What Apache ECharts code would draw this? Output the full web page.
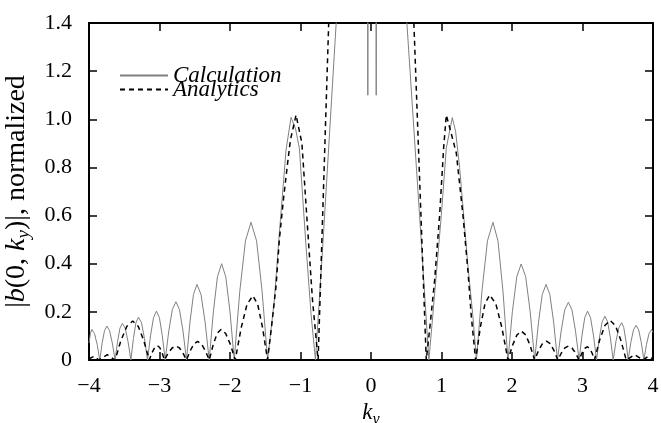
<!DOCTYPE html>
<html>
<head>
<meta charset="utf-8">
<script src="https://cdn.jsdelivr.net/npm/echarts@6/dist/echarts.min.js"></script>
<style>html,body{margin:0;padding:0;background:#fff}#c{width:661px;height:423px}</style>
</head>
<body>
<div id="c"></div>
<script>
const xTicks = [-4, -3, -2, -1, 0, 1, 2, 3, 4];
const yTicks = [0, 0.2, 0.4, 0.6, 0.8, 1.0, 1.2, 1.4];
const seriesNames = ['Calculation', 'Analytics'];

const calcK = [-4,-3.98,-3.96,-3.922,-3.884,-3.847,-3.814,-3.78,-3.747,-3.708,-3.669,-3.63,-3.595,-3.561,-3.526,-3.486,-3.446,-3.406,-3.37,-3.334,-3.298,-3.255,-3.213,-3.17,-3.128,-3.085,-3.043,-3.001,-2.96,-2.919,-2.868,-2.818,-2.767,-2.717,-2.667,-2.617,-2.568,-2.518,-2.469,-2.411,-2.353,-2.295,-2.236,-2.178,-2.119,-2.06,-2.0,-1.94,-1.861,-1.781,-1.702,-1.623,-1.545,-1.466,-1.371,-1.30,-1.205,-1.134,-1.07,-1.016,-0.92,-0.85,-0.788,-0.685,-0.494,-0.3,-0.05,-0.045,-0.04,0.07,0.074,0.078,0.3,0.509,0.689,0.821,0.878,0.997,1.068,1.153,1.2,1.257,1.375,1.446,1.496,1.574,1.652,1.73,1.801,1.872,1.943,2.005,2.068,2.13,2.194,2.258,2.322,2.376,2.429,2.483,2.537,2.591,2.645,2.697,2.748,2.8,2.851,2.901,2.952,2.992,3.032,3.072,3.114,3.157,3.199,3.239,3.278,3.318,3.357,3.396,3.435,3.475,3.515,3.555,3.586,3.617,3.648,3.685,3.723,3.76,3.797,3.834,3.871,3.907,3.944,3.98,4.0];
const calcB = [0.07,0.11,0.127,0.11,0.064,0,0.07,0.122,0.141,0.122,0.07,0,0.076,0.132,0.152,0.132,0.076,0,0.089,0.155,0.178,0.155,0.089,0,0.10,0.176,0.203,0.176,0.10,0,0.121,0.21,0.242,0.21,0.121,0,0.157,0.272,0.314,0.272,0.157,0,0.20,0.346,0.40,0.346,0.20,0,0.286,0.495,0.572,0.495,0.286,0,0.25,0.527,0.873,1.008,0.96,0.88,0.466,0.19,0,0.47,1.4,1.75,1.9,1.1,1.9,1.9,1.1,1.9,1.75,1.4,0.6,0,0.19,0.6,0.88,1.007,0.95,0.80,0.39,0.18,0,0.286,0.495,0.572,0.495,0.286,0,0.20,0.346,0.399,0.346,0.20,0,0.157,0.272,0.314,0.272,0.157,0,0.12,0.208,0.24,0.208,0.12,0,0.10,0.176,0.203,0.176,0.10,0,0.091,0.158,0.182,0.158,0.091,0,0.078,0.134,0.155,0.134,0.078,0,0.072,0.125,0.144,0.125,0.072,0,0.064,0.11,0.127,0.115];

const anaK = [-4,-3.93,-3.86,-3.74,-3.63,-3.547,-3.463,-3.38,-3.302,-3.223,-3.145,-3.107,-3.068,-3.03,-2.997,-2.963,-2.93,-2.876,-2.821,-2.767,-2.717,-2.667,-2.617,-2.565,-2.512,-2.46,-2.405,-2.349,-2.294,-2.239,-2.183,-2.128,-2.061,-1.992,-1.925,-1.842,-1.759,-1.676,-1.607,-1.537,-1.468,-1.41,-1.347,-1.30,-1.243,-1.19,-1.143,-1.063,-0.98,-0.9,-0.83,-0.75,-0.6,-0.4,0,0.4,0.608,0.784,0.84,0.902,0.973,1.03,1.068,1.13,1.21,1.305,1.375,1.423,1.484,1.55,1.617,1.683,1.77,1.856,1.943,2.006,2.07,2.133,2.195,2.258,2.32,2.376,2.432,2.488,2.542,2.596,2.65,2.7,2.75,2.8,2.851,2.901,2.952,2.991,3.031,3.07,3.103,3.137,3.17,3.243,3.317,3.39,3.467,3.543,3.62,3.74,3.86,3.93,4.0];
const anaB = [0.005,0.015,0,0.022,0,0.081,0.14,0.162,0.14,0.081,0,0.03,0.052,0.06,0.052,0.03,0,0.029,0.05,0.058,0.05,0.029,0,0.038,0.067,0.077,0.067,0.038,0,0.063,0.11,0.127,0.11,0.063,0,0.133,0.231,0.267,0.231,0.133,0,0.14,0.307,0.5,0.665,0.80,0.914,1.018,0.9,0.55,0.25,0,1.4,2.0,2.4,2.0,1.4,0,0.15,0.33,0.6,0.88,1.018,0.95,0.86,0.6,0.37,0.18,0,0.135,0.234,0.27,0.234,0.135,0,0.06,0.104,0.12,0.104,0.06,0,0.039,0.068,0.078,0.068,0.039,0,0.029,0.05,0.058,0.05,0.029,0,0.028,0.048,0.055,0.048,0.028,0,0.083,0.143,0.165,0.143,0.083,0,0.022,0,0.015,0.005];

const FONT = 'Liberation Serif';
const pairs = (xs, ys) => xs.map((x, i) => [x, ys[i]]);
const fmtX = v => (v < 0 ? '\u2212' + Math.abs(v) : String(v));
const fmtY = v => (v === 0 ? '0' : v.toFixed(1));

const chart = echarts.init(document.getElementById('c'), null, {renderer: 'canvas'});
const axisLine = {show: true, onZero: false, lineStyle: {color: '#000', width: 2}};
const tick = {show: true, inside: true, length: 8, lineStyle: {color: '#000', width: 1.5}};
const xBase = {type: 'value', min: xTicks[0], max: xTicks[xTicks.length - 1], interval: 1, splitLine: {show: false}, axisLine, axisTick: tick};
const yBase = {type: 'value', min: yTicks[0], max: yTicks[yTicks.length - 1], interval: 0.2, splitLine: {show: false}, axisLine, axisTick: tick};

chart.setOption({
  animation: false,
  backgroundColor: '#fff',
  grid: {left: 89, right: 8, top: 23, bottom: 63, containLabel: false, outerBoundsMode: 'none'},
  legend: {
    data: seriesNames, orient: 'vertical', left: 114, top: 59,
    itemWidth: 48, itemHeight: 10, itemGap: -9,
    itemStyle: {opacity: 0},
    textStyle: {fontFamily: FONT, fontStyle: 'italic', fontSize: 23, color: '#000'}
  },
  xAxis: [
    Object.assign({}, xBase, {
      position: 'bottom',
      axisLabel: {formatter: fmtX, fontFamily: FONT, fontSize: 22, color: '#000', margin: 15},
      name: '{i|k}{s|y}', nameLocation: 'middle', nameGap: 38,
      nameTextStyle: {rich: {
        i: {fontFamily: FONT, fontStyle: 'italic', fontSize: 23, color: '#000', lineHeight: 28, verticalAlign: 'middle'},
        s: {fontFamily: FONT, fontStyle: 'italic', fontSize: 16, color: '#000', verticalAlign: 'bottom'}
      }}
    }),
    Object.assign({}, xBase, {position: 'top', axisLabel: {show: false}})
  ],
  yAxis: [
    Object.assign({}, yBase, {
      position: 'left',
      axisLabel: {formatter: fmtY, fontFamily: FONT, fontSize: 22, color: '#000', margin: 17},
      name: '{n||}{i|b}{n|(0, }{i|k}{s|y}{n|)|, normalized}', nameLocation: 'middle', nameGap: 41, nameRotate: 90,
      nameTextStyle: {rich: {
        n: {fontFamily: FONT, fontSize: 28, color: '#000', lineHeight: 34, verticalAlign: 'middle'},
        i: {fontFamily: FONT, fontStyle: 'italic', fontSize: 28, color: '#000', lineHeight: 34, verticalAlign: 'middle'},
        s: {fontFamily: FONT, fontStyle: 'italic', fontSize: 19, color: '#000', verticalAlign: 'bottom'}
      }}
    }),
    Object.assign({}, yBase, {position: 'right', axisLabel: {show: false}})
  ],
  series: [
    {name: seriesNames[0], type: 'line', data: pairs(calcK, calcB), symbol: 'none', clip: true,
     lineStyle: {color: '#808080', width: 1}, itemStyle: {color: '#808080'}, z: 2},
    {name: seriesNames[1], type: 'line', data: pairs(anaK, anaB), symbol: 'none', clip: true,
     lineStyle: {color: '#000', width: 1.5, type: [5, 4]}, itemStyle: {color: '#000'}, z: 3}
  ]
});
</script>
</body>
</html>
